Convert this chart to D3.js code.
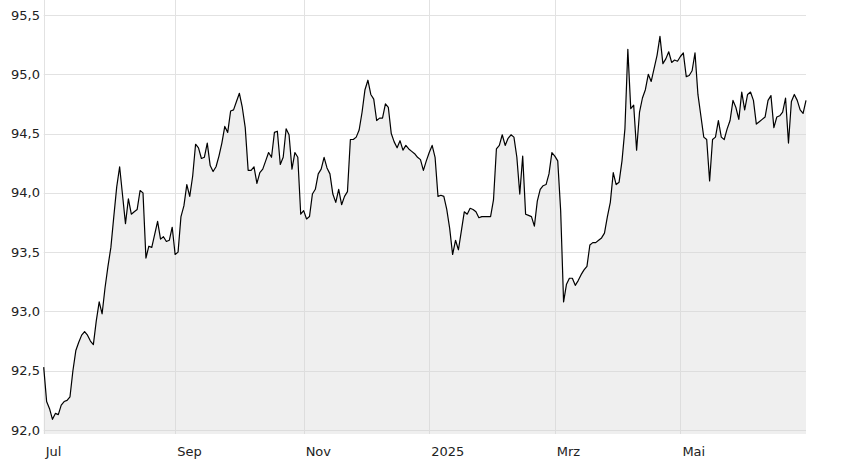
<!DOCTYPE html>
<html>
<head>
<meta charset="utf-8">
<script src="https://cdn.jsdelivr.net/npm/d3@7"></script>
<style>
  html, body { margin: 0; padding: 0; background: #ffffff; }
  svg { display: block; }
  text { font-family: "DejaVu Sans", Verdana, sans-serif; font-size: 13px; fill: #222; }
</style>
</head>
<body>
<svg id="chart" width="848" height="460"></svg>
<script>
// ---- data (one value per weekday, 2024-07-01 .. 2025-07-01) ----
const startDate = "2024-07-01";
const values = [
  92.53, 92.24, 92.18, 92.09, 92.14, 92.13, 92.21, 92.24, 92.25, 92.28,
  92.50, 92.67, 92.74, 92.80, 92.83, 92.80, 92.75, 92.72, 92.92, 93.08,
  92.98, 93.20, 93.38, 93.54, 93.80, 94.05, 94.22, 93.98, 93.74, 93.95,
  93.82, 93.84, 93.86, 94.02, 94.00, 93.45, 93.55, 93.54, 93.65, 93.76,
  93.61, 93.63, 93.59, 93.60, 93.71, 93.48, 93.50, 93.80, 93.89, 94.07,
  93.97, 94.14, 94.41, 94.38, 94.29, 94.30, 94.42, 94.23, 94.18, 94.22,
  94.31, 94.42, 94.56, 94.51, 94.69, 94.70, 94.77, 94.84, 94.72, 94.55,
  94.19, 94.19, 94.22, 94.08, 94.17, 94.20, 94.27, 94.34, 94.30, 94.51,
  94.52, 94.24, 94.30, 94.54, 94.49, 94.20, 94.34, 94.30, 93.82, 93.85,
  93.78, 93.80, 93.99, 94.03, 94.16, 94.20, 94.30, 94.21, 94.16, 93.99,
  93.92, 94.03, 93.90, 93.97, 94.01, 94.45, 94.45, 94.47, 94.53, 94.68,
  94.87, 94.95, 94.83, 94.79, 94.61, 94.63, 94.63, 94.75, 94.72, 94.50,
  94.43, 94.38, 94.44, 94.36, 94.40, 94.37, 94.35, 94.33, 94.30, 94.28,
  94.19, 94.27, 94.34, 94.40, 94.30, 93.97, 93.98, 93.97, 93.86, 93.70,
  93.48, 93.60, 93.52, 93.68, 93.84, 93.82, 93.87, 93.86, 93.84, 93.79,
  93.80, 93.80, 93.80, 93.80, 93.94, 94.37, 94.40, 94.49, 94.40, 94.46,
  94.49, 94.47, 94.30, 93.99, 94.31, 93.82, 93.81, 93.80, 93.72, 93.93,
  94.03, 94.06, 94.07, 94.16, 94.34, 94.31, 94.27, 93.85, 93.08, 93.23,
  93.28, 93.28, 93.22, 93.26, 93.31, 93.35, 93.38, 93.56, 93.58, 93.58,
  93.60, 93.62, 93.66, 93.80, 93.92, 94.17, 94.07, 94.09, 94.27, 94.54,
  95.21, 94.71, 94.74, 94.36, 94.68, 94.80, 94.87, 95.00, 94.94, 95.05,
  95.16, 95.32, 95.09, 95.13, 95.19, 95.10, 95.12, 95.11, 95.15, 95.18,
  94.98, 94.99, 95.03, 95.18, 94.83, 94.65, 94.47, 94.45, 94.10, 94.45,
  94.47, 94.61, 94.47, 94.45, 94.54, 94.61, 94.78, 94.72, 94.62, 94.85,
  94.70, 94.83, 94.85, 94.78, 94.58, 94.60, 94.62, 94.64, 94.78, 94.82,
  94.55, 94.64, 94.65, 94.68, 94.80, 94.42, 94.77, 94.83, 94.78, 94.70,
  94.67, 94.78
];
const yTicks = [92.0, 92.5, 93.0, 93.5, 94.0, 94.5, 95.0, 95.5];
const xTickDates = ["2024-07-01", "2024-09-02", "2024-11-01", "2025-01-01", "2025-03-03", "2025-05-01"];
const xTickLabels = ["Jul", "Sep", "Nov", "2025", "Mrz", "Mai"];

// weekday calendar for the categories
const parse = d3.utcParse("%Y-%m-%d");
const fmt = d3.utcFormat("%Y-%m-%d");
const dates = [];
{
  let d = parse(startDate);
  while (dates.length < values.length) {
    const wd = d.getUTCDay();
    if (wd !== 0 && wd !== 6) dates.push(fmt(d));
    d = d3.utcDay.offset(d, 1);
  }
}
const data = values.map((v, i) => ({ i, date: dates[i], v }));

// ---- layout ----
const svg = d3.select("#chart");
const plotL = 43.7, plotR = 806, plotT = 0, plotB = 434;

const x = d3.scaleLinear().domain([0, values.length - 1]).range([plotL, plotR]);
const y = d3.scaleLinear().domain([92, 95.5]).range([430, 15]);

// horizontal grid
svg.append("g")
  .selectAll("line").data(yTicks).join("line")
  .attr("x1", plotL).attr("x2", plotR)
  .attr("y1", d => Math.round(y(d)) + 0.5).attr("y2", d => Math.round(y(d)) + 0.5)
  .attr("stroke", "#e2e2e2").attr("stroke-width", 1);

// vertical grid
const xTickIdx = xTickDates.map(s => dates.indexOf(s));
svg.append("g")
  .selectAll("line").data(xTickIdx).join("line")
  .attr("x1", d => Math.round(x(d)) + 0.5).attr("x2", d => Math.round(x(d)) + 0.5)
  .attr("y1", plotT).attr("y2", plotB)
  .attr("stroke", "#e2e2e2").attr("stroke-width", 1);

// area
const area = d3.area()
  .x(d => x(d.i))
  .y0(plotB)
  .y1(d => y(d.v));
svg.append("path").datum(data)
  .attr("d", area)
  .attr("fill", "#d8d8d8").attr("fill-opacity", 0.4);

// line
const line = d3.line().x(d => x(d.i)).y(d => y(d.v));
svg.append("path").datum(data)
  .attr("d", line)
  .attr("fill", "none").attr("stroke", "#000").attr("stroke-width", 1.2)
  .attr("stroke-linejoin", "round");

// y labels
const yFmt = d3.format(".1f");
svg.append("g")
  .selectAll("text").data(yTicks).join("text")
  .attr("x", 40).attr("y", d => y(d))
  .attr("text-anchor", "end").attr("dominant-baseline", "central")
  .text(d => yFmt(d).replace(".", ","));

// x labels
svg.append("g")
  .selectAll("text").data(xTickIdx).join("text")
  .attr("x", d => x(d) + 2).attr("y", 456)
  .attr("text-anchor", "start")
  .text((d, k) => xTickLabels[k]);
</script>
</body>
</html>
